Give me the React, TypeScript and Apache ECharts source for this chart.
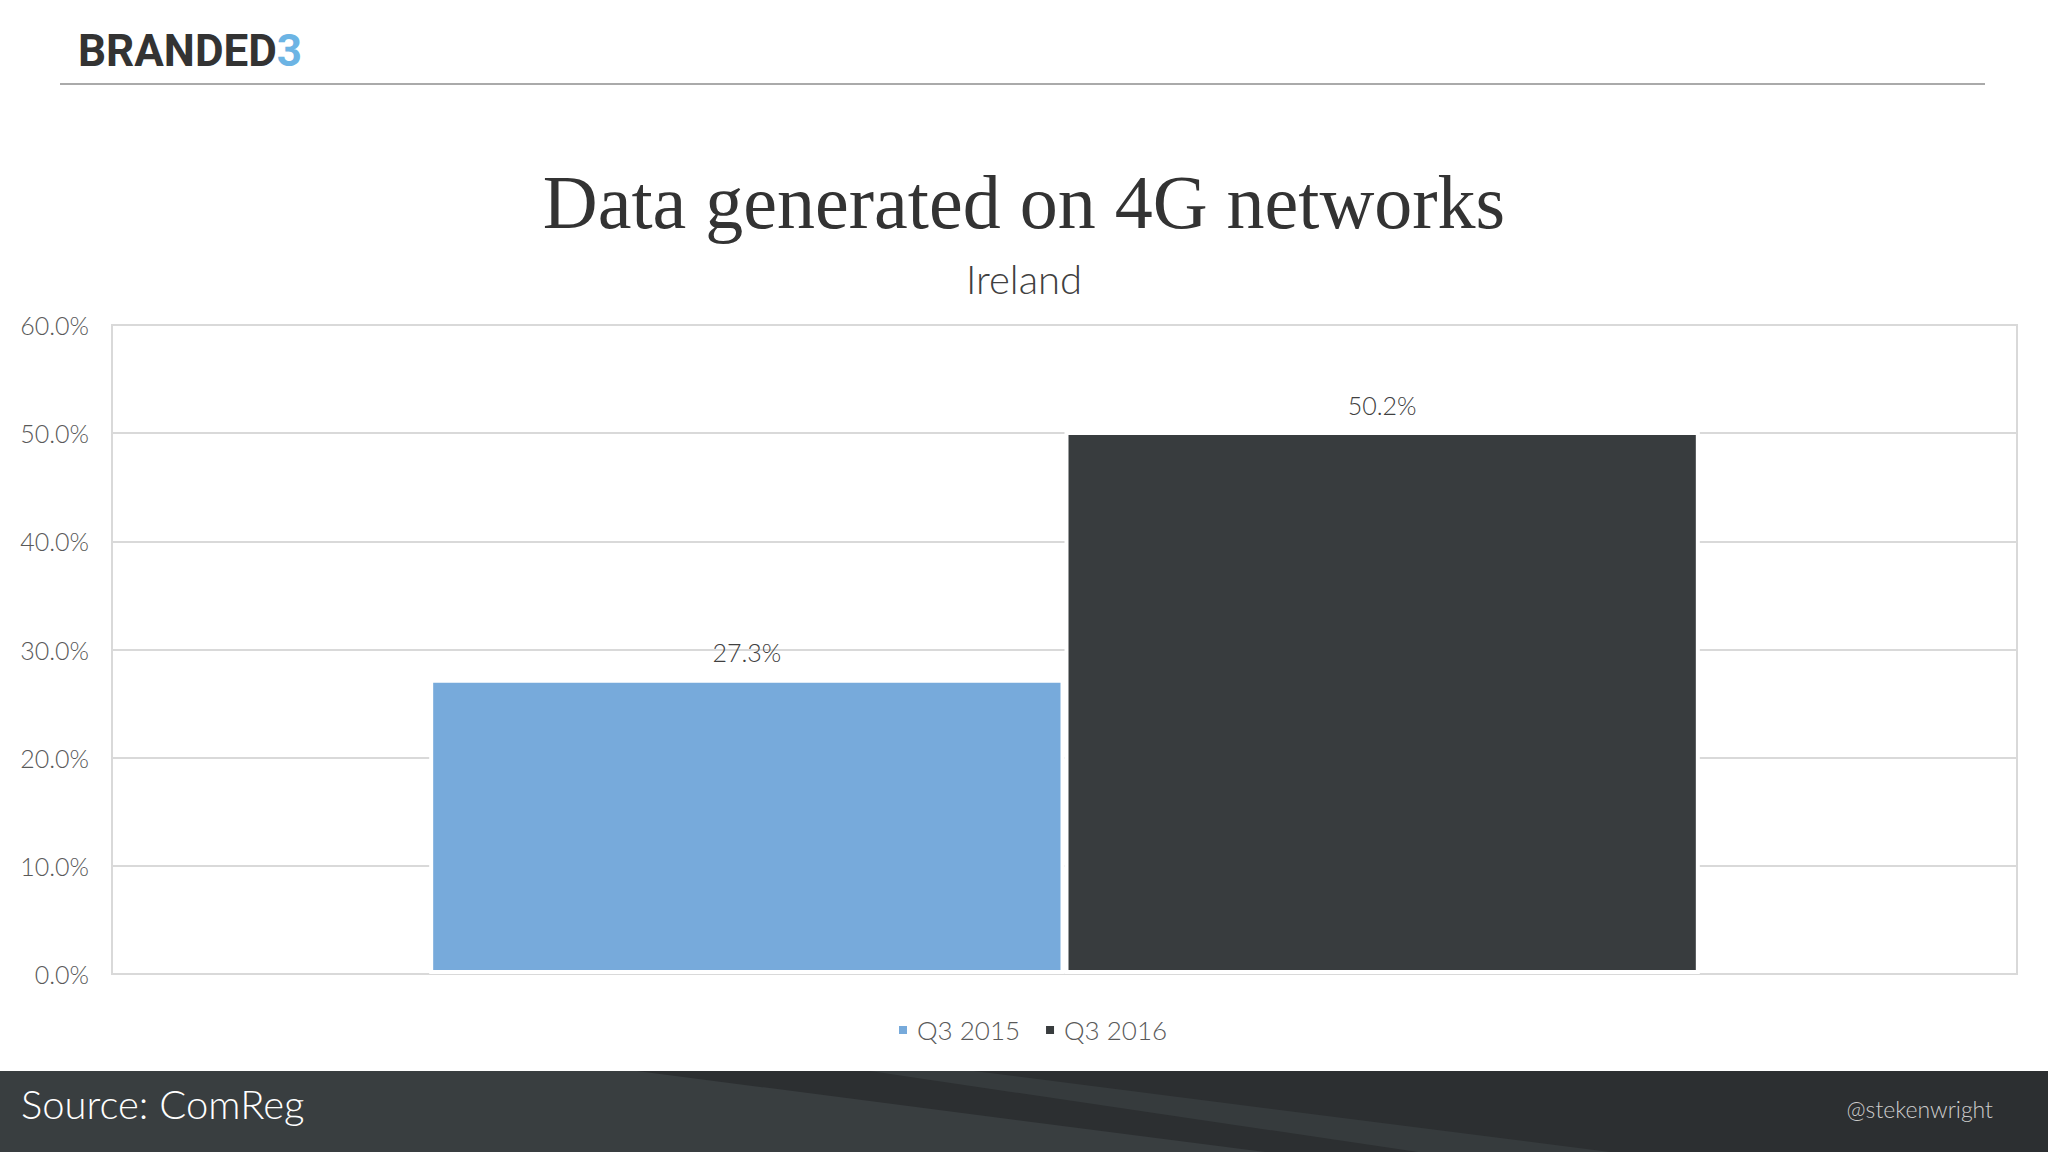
import React, { useEffect, useRef } from "react";
import * as echarts from "echarts";

const categories = ["Ireland"];
const seriesNames = ["Q3 2015", "Q3 2016"];
const q3_2015 = [27.3];
const q3_2016 = [50.2];
const yTicks = { min: 0, max: 60, interval: 10 };

const TITLE = "Data generated on 4G networks";
const SUBTITLE = "Ireland";
const SOURCE = "Source: ComReg";
const HANDLE = "@stekenwright";

export default function App() {
  const ref = useRef<HTMLDivElement>(null);
  useEffect(() => {
    if (!ref.current) return;
    const chart = echarts.init(ref.current, null, { renderer: "svg" });
    const labelFont = { fontFamily: "Lato", fontWeight: 300 as any };
    chart.setOption({
      animation: false,
      backgroundColor: "#ffffff",
      title: [
        {
          text: TITLE,
          left: "center",
          top: 159,
          textStyle: {
            fontFamily: "Liberation Serif",
            fontWeight: "normal",
            fontSize: 76,
            color: "#333333",
          },
        },
        {
          text: SUBTITLE,
          left: "center",
          top: 254,
          textStyle: {
            ...labelFont,
            fontSize: 40,
            color: "#404040",
          },
        },
      ],
      legend: {
        data: seriesNames,
        left: 892,
        padding: 5,
        top: 1012,
        icon: "rect",
        itemWidth: 10,
        itemHeight: 10,
        itemGap: 24,
        textStyle: { ...labelFont, fontSize: 26, color: "#595959", padding: [0, 0, 0, 4] },
      },
      grid: {
        left: 112,
        right: 31,
        top: 325,
        bottom: 178,
        show: true,
        borderColor: "#d9d9d9",
        borderWidth: 2,
        backgroundColor: "transparent",
      },
      xAxis: {
        type: "category",
        data: categories,
        axisLine: { show: true, lineStyle: { color: "#d9d9d9", width: 2 } },
        axisTick: { show: false },
        axisLabel: { show: false },
      },
      yAxis: {
        type: "value",
        min: yTicks.min,
        max: yTicks.max,
        interval: yTicks.interval,
        axisLine: { show: false },
        axisTick: { show: false },
        splitLine: { lineStyle: { color: "#d9d9d9", width: 2 } },
        axisLabel: {
          margin: 23,
          ...labelFont,
          fontSize: 25,
          color: "#595959",
          formatter: (v: number) => v.toFixed(1) + "%",
        },
      },
      series: [
        {
          name: seriesNames[0],
          type: "bar",
          data: q3_2015,
          barGap: "0%",
          barCategoryGap: "33.3%",
          itemStyle: { color: "#77aadb", borderColor: "#ffffff", borderWidth: 4 },
          label: {
            show: true,
            position: "top",
            distance: 14,
            ...labelFont,
            fontSize: 25,
            color: "#404040",
            formatter: (p: any) => p.value.toFixed(1) + "%",
          },
        },
        {
          name: seriesNames[1],
          type: "bar",
          data: q3_2016,
          barGap: "0%",
          barCategoryGap: "33.3%",
          itemStyle: { color: "#383c3e", borderColor: "#ffffff", borderWidth: 4 },
          label: {
            show: true,
            position: "top",
            distance: 14,
            ...labelFont,
            fontSize: 25,
            color: "#404040",
            formatter: (p: any) => p.value.toFixed(1) + "%",
          },
        },
      ],
      graphic: [
        {
          type: "text",
          left: 78,
          top: 29,
          style: {
            text: "{a|BRANDED}{b|3}",
            rich: {
              a: { fontFamily: "Roboto", fontWeight: "bold", fontSize: 44, fill: "#333333", color: "#333333" },
              b: { fontFamily: "Roboto", fontWeight: "bold", fontSize: 44, fill: "#6cb4e4", color: "#6cb4e4" },
            },
          },
        },
        {
          type: "line",
          shape: { x1: 60, y1: 84, x2: 1985, y2: 84 },
          style: { stroke: "#aaaaaa", lineWidth: 2 },
        },
        {
          type: "rect",
          shape: { x: 0, y: 1071, width: 2048, height: 81 },
          style: { fill: "#393e40" },
        },
        {
          type: "polygon",
          shape: { points: [[637, 1071], [2048, 1071], [2048, 1152], [1265, 1152]] },
          style: { fill: "#2c2f31" },
        },
        {
          type: "polygon",
          shape: { points: [[870, 1071], [974, 1071], [1610, 1152], [1418, 1152]] },
          style: { fill: "#363b3d" },
        },
        {
          type: "text",
          left: 21,
          top: 1084,
          style: {
            text: SOURCE,
            fontFamily: "Lato",
            fontWeight: 300,
            fontSize: 40,
            fill: "#ffffff",
          },
        },
        {
          type: "text",
          right: 55,
          top: 1097,
          style: {
            text: HANDLE,
            fontFamily: "Lato",
            fontWeight: 300,
            fontSize: 23,
            fill: "#cccccc",
          },
        },
      ],
    });
    return () => chart.dispose();
  }, []);
  return (
    <div
      ref={ref}
      style={{ position: "fixed", left: 0, top: 0, width: 2048, height: 1152 }}
    />
  );
}
